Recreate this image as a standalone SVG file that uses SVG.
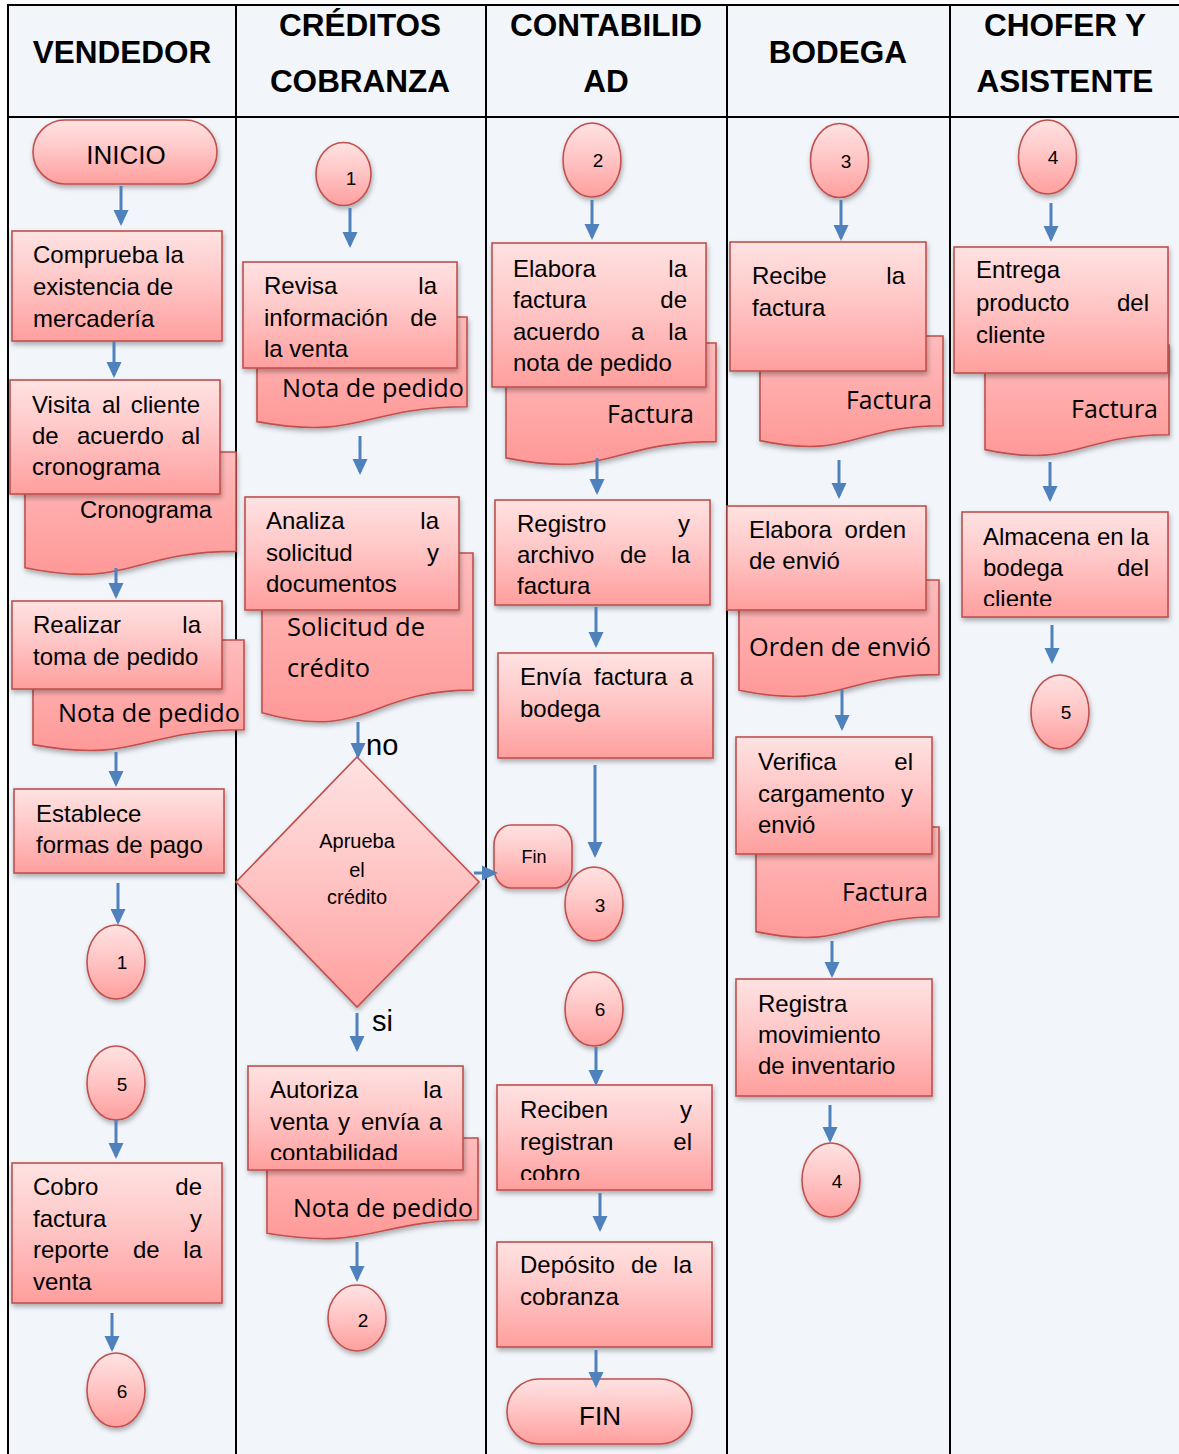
<svg xmlns="http://www.w3.org/2000/svg" width="1179" height="1454" viewBox="0 0 1179 1454">
  <defs>
    <linearGradient id="fillBox" x1="0" y1="0" x2="0" y2="1">
      <stop offset="0" stop-color="#FFE2E2"/>
      <stop offset="0.4" stop-color="#FFCACA"/>
      <stop offset="1" stop-color="#FF9F9E"/>
    </linearGradient>
    <linearGradient id="fillDoc" x1="0" y1="0" x2="0" y2="1">
      <stop offset="0" stop-color="#FFBCBC"/>
      <stop offset="1" stop-color="#FF9998"/>
    </linearGradient>
    <filter id="shadow" x="-10%" y="-10%" width="125%" height="130%">
      <feDropShadow dx="1" dy="3" stdDeviation="2.5" flood-color="#000" flood-opacity="0.3"/>
    </filter>
    <marker id="ah" markerUnits="userSpaceOnUse" markerWidth="16" markerHeight="16" refX="13" refY="8" orient="auto">
      <path d="M0,0.5 L16,8 L0,15.5 z" fill="#4F81BD"/>
    </marker>
    <clipPath id="clipRegistro"><rect x="490" y="495" width="230" height="101"/></clipPath>
    <clipPath id="clipAutoriza"><rect x="240" y="1060" width="230" height="100"/></clipPath>
    <clipPath id="clipReciben"><rect x="490" y="1080" width="230" height="100"/></clipPath>
    <clipPath id="clipAlmacena"><rect x="955" y="505" width="220" height="101"/></clipPath>
    <clipPath id="clipNotaB"><rect x="260" y="1130" width="230" height="89"/></clipPath>
    <style>
      .lane { stroke: #000; stroke-width: 2; }
      .box { fill: url(#fillBox); stroke: #C0504D; stroke-width: 1.6; filter: url(#shadow); }
      .doc { fill: url(#fillDoc); stroke: #C0504D; stroke-width: 1.6; filter: url(#shadow); }
      .arr { stroke: #4F81BD; stroke-width: 3; fill: none; marker-end: url(#ah); }
      .hd { font-family: "Liberation Sans", Arial, sans-serif; font-weight: bold; font-size: 31.5px; text-anchor: middle; fill: #000; }
      .t { font-family: "Liberation Sans", Arial, sans-serif; font-size: 24px; fill: #000; }
      .e { text-anchor: end; }
      .dia { font-family: "Liberation Sans", Arial, sans-serif; font-size: 20px; text-anchor: middle; fill: #000; }
      .small { font-family: "Liberation Sans", Arial, sans-serif; font-size: 18px; text-anchor: middle; fill: #000; }
      .dt { font-family: "Open Sans", "Noto Sans", sans-serif; font-size: 25px; fill: #000; }
      .num { font-family: "Liberation Sans", Arial, sans-serif; font-size: 19px; text-anchor: middle; fill: #000; }
      .term { font-family: "Liberation Sans", Arial, sans-serif; font-size: 26px; text-anchor: middle; fill: #000; }
      .lbl { font-family: "Liberation Sans", Arial, sans-serif; font-size: 29px; fill: #000; }
    </style>
  </defs>

  <!-- swimlane table -->
  <g id="lanes">
    <rect x="0" y="0" width="1179" height="1454" fill="#FFFFFF"/>
    <rect x="8" y="5" width="1180" height="1460" fill="#F2F5FA" class="lane"/>
    <line x1="8" y1="117" x2="1179" y2="117" class="lane"/>
    <line x1="236" y1="5" x2="236" y2="1454" class="lane"/>
    <line x1="486" y1="5" x2="486" y2="1454" class="lane"/>
    <line x1="727" y1="5" x2="727" y2="1454" class="lane"/>
    <line x1="950" y1="5" x2="950" y2="1454" class="lane"/>
    <text class="hd" x="122" y="63">VENDEDOR</text>
    <text class="hd" x="360" y="36">CRÉDITOS</text>
    <text class="hd" x="360" y="92">COBRANZA</text>
    <text class="hd" x="606" y="36">CONTABILID</text>
    <text class="hd" x="606" y="92">AD</text>
    <text class="hd" x="838" y="63">BODEGA</text>
    <text class="hd" x="1065" y="36">CHOFER Y</text>
    <text class="hd" x="1065" y="92">ASISTENTE</text>
  </g>

  <!-- VENDEDOR lane -->
  <g id="inicio">
    <rect class="box" x="33" y="120" width="184" height="64" rx="32" ry="32"/>
    <text class="term" x="126" y="164">INICIO</text>
  </g>
  <g id="comprueba">
    <rect class="box" x="12" y="231" width="210" height="110"/>
    <text class="t" x="33" y="263">Comprueba la</text>
    <text class="t" x="33" y="295">existencia de</text>
    <text class="t" x="33" y="327">mercadería</text>
  </g>
  <g id="doc-cronograma">
    <path class="doc" d="M25,452 H236 V551.4 C130.5,551.4 130.5,589.3 25,567.8 Z"/>
    <text x="80" y="518" font-family="Liberation Sans, Arial, sans-serif" font-size="23" textLength="132" lengthAdjust="spacingAndGlyphs">Cronograma</text>
  </g>
  <g id="visita">
    <rect class="box" x="10" y="380" width="210" height="114"/>
    <text class="t" x="32" y="413">Visita</text>
    <text class="t" x="102" y="413">al</text>
    <text class="t e" x="200" y="413">cliente</text>
    <text class="t" x="32" y="444">de</text>
    <text class="t" x="77" y="444">acuerdo</text>
    <text class="t e" x="200" y="444">al</text>
    <text class="t" x="32" y="475">cronograma</text>
  </g>
  <g id="doc-nota-1">
    <path class="doc" d="M33,640 H244 V729.8 C138.5,729.8 138.5,764 33,744.6 Z"/>
    <text class="dt" x="58" y="722" textLength="182" lengthAdjust="spacingAndGlyphs">Nota de pedido</text>
  </g>
  <g id="toma-pedido">
    <rect class="box" x="12" y="601" width="210" height="88"/>
    <text class="t" x="33" y="633">Realizar</text>
    <text class="t e" x="201" y="633">la</text>
    <text class="t" x="33" y="665">toma de pedido</text>
  </g>
  <g id="formas-pago">
    <rect class="box" x="14" y="789" width="210" height="84"/>
    <text class="t" x="36" y="822">Establece</text>
    <text class="t" x="36" y="853">formas de pago</text>
  </g>
  <g id="con-1a">
    <ellipse class="box" cx="116" cy="962" rx="29" ry="37"/>
    <text class="num" x="122" y="969">1</text>
  </g>
  <g id="con-5b">
    <ellipse class="box" cx="116" cy="1083" rx="29" ry="37"/>
    <text class="num" x="122" y="1091">5</text>
  </g>
  <g id="cobro-factura">
    <rect class="box" x="12" y="1163" width="210" height="140"/>
    <text class="t" x="33" y="1195">Cobro</text>
    <text class="t e" x="202" y="1195">de</text>
    <text class="t" x="33" y="1227">factura</text>
    <text class="t e" x="202" y="1227">y</text>
    <text class="t" x="33" y="1258">reporte</text>
    <text class="t" x="133" y="1258">de</text>
    <text class="t e" x="202" y="1258">la</text>
    <text class="t" x="33" y="1290">venta</text>
  </g>
  <g id="con-6a">
    <ellipse class="box" cx="116" cy="1390" rx="29" ry="37"/>
    <text class="num" x="122" y="1398">6</text>
  </g>

  <!-- CRÉDITOS COBRANZA lane -->
  <g id="con-1b">
    <ellipse class="box" cx="343.5" cy="174" rx="27.5" ry="31.5"/>
    <text class="num" x="351" y="185">1</text>
  </g>
  <g id="doc-nota-2">
    <path class="doc" d="M257,317 H467 V406.8 C362,406.8 362,441 257,421.6 Z"/>
    <text class="dt" x="282" y="397" textLength="182" lengthAdjust="spacingAndGlyphs">Nota de pedido</text>
  </g>
  <g id="revisa">
    <rect class="box" x="243" y="262" width="214" height="106"/>
    <text class="t" x="264" y="294">Revisa</text>
    <text class="t e" x="437" y="294">la</text>
    <text class="t" x="264" y="326">información</text>
    <text class="t e" x="437" y="326">de</text>
    <text class="t" x="264" y="357">la venta</text>
  </g>
  <g id="doc-solicitud">
    <path class="doc" d="M262,553 H473 V690.1 C367.5,690.1 367.5,742.4 262,712.7 Z"/>
    <text class="dt" x="287" y="636" textLength="138" lengthAdjust="spacingAndGlyphs">Solicitud de</text>
    <text class="dt" x="287" y="677" textLength="83" lengthAdjust="spacingAndGlyphs">crédito</text>
  </g>
  <g id="analiza">
    <rect class="box" x="245" y="497" width="214" height="113"/>
    <text class="t" x="266" y="529">Analiza</text>
    <text class="t e" x="439" y="529">la</text>
    <text class="t" x="266" y="561">solicitud</text>
    <text class="t e" x="439" y="561">y</text>
    <text class="t" x="266" y="592">documentos</text>
  </g>
  <g id="aprueba">
    <polygon class="box" points="357,757 479,882 357,1007 236,882"/>
    <text class="dia" x="357" y="848">Aprueba</text>
    <text class="dia" x="357" y="877">el</text>
    <text class="dia" x="357" y="904">crédito</text>
  </g>
  <g id="labels">
    <text class="lbl" x="366" y="755">no</text>
    <text class="lbl" x="372" y="1031">si</text>
  </g>
  <g id="doc-nota-3">
    <path class="doc" d="M267,1138 H478 V1219.8 C372.5,1219.8 372.5,1251 267,1233.3 Z"/>
    <text class="dt" x="293" y="1217" textLength="180" lengthAdjust="spacingAndGlyphs" clip-path="url(#clipNotaB)">Nota de pedido</text>
  </g>
  <g id="autoriza">
    <rect class="box" x="248" y="1066" width="215" height="104"/>
    <g clip-path="url(#clipAutoriza)">
      <text class="t" x="270" y="1098">Autoriza</text>
      <text class="t e" x="442" y="1098">la</text>
      <text class="t" x="270" y="1130">venta</text>
      <text class="t" x="338" y="1130">y</text>
      <text class="t" x="361" y="1130">envía</text>
      <text class="t e" x="442" y="1130">a</text>
      <text class="t" x="270" y="1161">contabilidad</text>
    </g>
  </g>
  <g id="con-2a">
    <ellipse class="box" cx="357" cy="1318" rx="29" ry="33"/>
    <text class="num" x="363" y="1327">2</text>
  </g>

  <!-- CONTABILIDAD lane -->
  <g id="con-2b">
    <ellipse class="box" cx="592" cy="160" rx="29" ry="37"/>
    <text class="num" x="598" y="167">2</text>
  </g>
  <g id="doc-factura-1">
    <path class="doc" d="M506,343 H716 V441.6 C611,441.6 611,479.2 506,457.9 Z"/>
    <text class="dt" x="607" y="423" textLength="87" lengthAdjust="spacingAndGlyphs">Factura</text>
  </g>
  <g id="elabora-factura">
    <rect class="box" x="492" y="243" width="214" height="144"/>
    <text class="t" x="513" y="277">Elabora</text>
    <text class="t e" x="687" y="277">la</text>
    <text class="t" x="513" y="308">factura</text>
    <text class="t e" x="687" y="308">de</text>
    <text class="t" x="513" y="340">acuerdo</text>
    <text class="t" x="631" y="340">a</text>
    <text class="t e" x="687" y="340">la</text>
    <text class="t" x="513" y="371">nota de pedido</text>
  </g>
  <g id="registro">
    <rect class="box" x="495" y="500" width="215" height="105"/>
    <g clip-path="url(#clipRegistro)">
      <text class="t" x="517" y="532">Registro</text>
      <text class="t e" x="690" y="532">y</text>
      <text class="t" x="517" y="563">archivo</text>
      <text class="t" x="620" y="563">de</text>
      <text class="t e" x="690" y="563">la</text>
      <text class="t" x="517" y="594">factura</text>
    </g>
  </g>
  <g id="envia-factura">
    <rect class="box" x="498" y="653" width="215" height="105"/>
    <text class="t" x="520" y="685">Envía</text>
    <text class="t" x="594" y="685">factura</text>
    <text class="t e" x="693" y="685">a</text>
    <text class="t" x="520" y="717">bodega</text>
  </g>
  <g id="fin-credito">
    <rect class="box" x="494" y="825" width="78" height="63" rx="17" ry="20"/>
    <text class="small" x="534" y="863">Fin</text>
  </g>
  <g id="con-3a">
    <ellipse class="box" cx="594" cy="904" rx="29" ry="37"/>
    <text class="num" x="600" y="912">3</text>
  </g>
  <g id="con-6b">
    <ellipse class="box" cx="594" cy="1009" rx="29" ry="37"/>
    <text class="num" x="600" y="1016">6</text>
  </g>
  <g id="reciben-cobro">
    <rect class="box" x="497" y="1085" width="215" height="105"/>
    <g clip-path="url(#clipReciben)">
      <text class="t" x="520" y="1118">Reciben</text>
      <text class="t e" x="692" y="1118">y</text>
      <text class="t" x="520" y="1150">registran</text>
      <text class="t e" x="692" y="1150">el</text>
      <text class="t" x="520" y="1182">cobro</text>
    </g>
  </g>
  <g id="deposito">
    <rect class="box" x="497" y="1242" width="215" height="105"/>
    <text class="t" x="520" y="1273">Depósito</text>
    <text class="t" x="631" y="1273">de</text>
    <text class="t e" x="692" y="1273">la</text>
    <text class="t" x="520" y="1305">cobranza</text>
  </g>
  <g id="fin">
    <rect class="box" x="507" y="1379" width="185" height="65" rx="32" ry="32"/>
    <text class="term" x="600" y="1425">FIN</text>
  </g>

  <!-- BODEGA lane -->
  <g id="con-3b">
    <ellipse class="box" cx="839.5" cy="160.5" rx="29" ry="37"/>
    <text class="num" x="846" y="168">3</text>
  </g>
  <g id="doc-factura-2">
    <path class="doc" d="M760,336 H943 V425.8 C851.5,425.8 851.5,460 760,440.6 Z"/>
    <text class="dt" x="846" y="409" textLength="86" lengthAdjust="spacingAndGlyphs">Factura</text>
  </g>
  <g id="recibe-factura">
    <rect class="box" x="730" y="242" width="196" height="129"/>
    <text class="t" x="752" y="284">Recibe</text>
    <text class="t e" x="905" y="284">la</text>
    <text class="t" x="752" y="316">factura</text>
  </g>
  <g id="doc-orden">
    <path class="doc" d="M739,580 H939 V674.6 C839,674.6 839,710.7 739,690.2 Z"/>
    <text class="dt" x="749" y="656" textLength="182" lengthAdjust="spacingAndGlyphs">Orden de envió</text>
  </g>
  <g id="elabora-orden">
    <rect class="box" x="727" y="506" width="199" height="104"/>
    <text class="t" x="749" y="538">Elabora</text>
    <text class="t e" x="906" y="538">orden</text>
    <text class="t" x="749" y="569">de envió</text>
  </g>
  <g id="doc-factura-3">
    <path class="doc" d="M756,827 H939 V916.8 C847.5,916.8 847.5,951 756,931.6 Z"/>
    <text class="dt" x="842" y="901" textLength="86" lengthAdjust="spacingAndGlyphs">Factura</text>
  </g>
  <g id="verifica">
    <rect class="box" x="736" y="737" width="196" height="117"/>
    <text class="t" x="758" y="770">Verifica</text>
    <text class="t e" x="913" y="770">el</text>
    <text class="t" x="758" y="802">cargamento</text>
    <text class="t e" x="913" y="802">y</text>
    <text class="t" x="758" y="833">envió</text>
  </g>
  <g id="registra-inventario">
    <rect class="box" x="736" y="979" width="196" height="117"/>
    <text class="t" x="758" y="1012">Registra</text>
    <text class="t" x="758" y="1043">movimiento</text>
    <text class="t" x="758" y="1074">de inventario</text>
  </g>
  <g id="con-4a">
    <ellipse class="box" cx="831" cy="1180" rx="29" ry="37"/>
    <text class="num" x="837" y="1188">4</text>
  </g>

  <!-- CHOFER Y ASISTENTE lane -->
  <g id="con-4b">
    <ellipse class="box" cx="1047.5" cy="157" rx="29" ry="37"/>
    <text class="num" x="1053" y="164">4</text>
  </g>
  <g id="doc-factura-4">
    <path class="doc" d="M985,345 H1169 V434.8 C1077,434.8 1077,469 985,449.6 Z"/>
    <text class="dt" x="1071" y="418" textLength="87" lengthAdjust="spacingAndGlyphs">Factura</text>
  </g>
  <g id="entrega">
    <rect class="box" x="954" y="247" width="214" height="126"/>
    <text class="t" x="976" y="278">Entrega</text>
    <text class="t" x="976" y="311">producto</text>
    <text class="t e" x="1149" y="311">del</text>
    <text class="t" x="976" y="343">cliente</text>
  </g>
  <g id="almacena">
    <rect class="box" x="962" y="512" width="206" height="105"/>
    <g clip-path="url(#clipAlmacena)">
      <text class="t" x="983" y="545">Almacena</text>
      <text class="t" x="1097" y="545">en</text>
      <text class="t e" x="1149" y="545">la</text>
      <text class="t" x="983" y="576">bodega</text>
      <text class="t e" x="1149" y="576">del</text>
      <text class="t" x="983" y="607">cliente</text>
    </g>
  </g>
  <g id="con-5a">
    <ellipse class="box" cx="1060" cy="712" rx="29" ry="37"/>
    <text class="num" x="1066" y="719">5</text>
  </g>

  <!-- connectors, drawn over the shapes -->
  <g id="connectors">
    <line class="arr" x1="121" y1="186" x2="121" y2="223"/>
    <line class="arr" x1="114" y1="341" x2="114" y2="375"/>
    <line class="arr" x1="116" y1="568" x2="116" y2="596"/>
    <line class="arr" x1="116" y1="752" x2="116" y2="784"/>
    <line class="arr" x1="118" y1="883" x2="118" y2="922"/>
    <line class="arr" x1="116" y1="1120" x2="116" y2="1156"/>
    <line class="arr" x1="112" y1="1313" x2="112" y2="1349"/>

    <line class="arr" x1="350" y1="208" x2="350" y2="245"/>
    <line class="arr" x1="360" y1="436" x2="360" y2="472"/>
    <line class="arr" x1="358" y1="722" x2="358" y2="756"/>
    <line class="arr" x1="474" y1="873" x2="495" y2="873"/>
    <line class="arr" x1="357" y1="1013" x2="357" y2="1049"/>
    <line class="arr" x1="357" y1="1242" x2="357" y2="1279"/>

    <line class="arr" x1="592" y1="200" x2="592" y2="237"/>
    <line class="arr" x1="597" y1="458" x2="597" y2="492"/>
    <line class="arr" x1="596" y1="607" x2="596" y2="645"/>
    <line class="arr" x1="595" y1="765" x2="595" y2="855"/>
    <line class="arr" x1="596" y1="1047" x2="596" y2="1083"/>
    <line class="arr" x1="600" y1="1193" x2="600" y2="1229"/>
    <line class="arr" x1="596" y1="1350" x2="596" y2="1385"/>

    <line class="arr" x1="841" y1="200" x2="841" y2="238"/>
    <line class="arr" x1="839" y1="460" x2="839" y2="496"/>
    <line class="arr" x1="842" y1="690" x2="842" y2="728"/>
    <line class="arr" x1="832" y1="941" x2="832" y2="975"/>
    <line class="arr" x1="830" y1="1105" x2="830" y2="1140"/>

    <line class="arr" x1="1051" y1="203" x2="1051" y2="239"/>
    <line class="arr" x1="1050" y1="462" x2="1050" y2="499"/>
    <line class="arr" x1="1052" y1="625" x2="1052" y2="661"/>
  </g>
</svg>
